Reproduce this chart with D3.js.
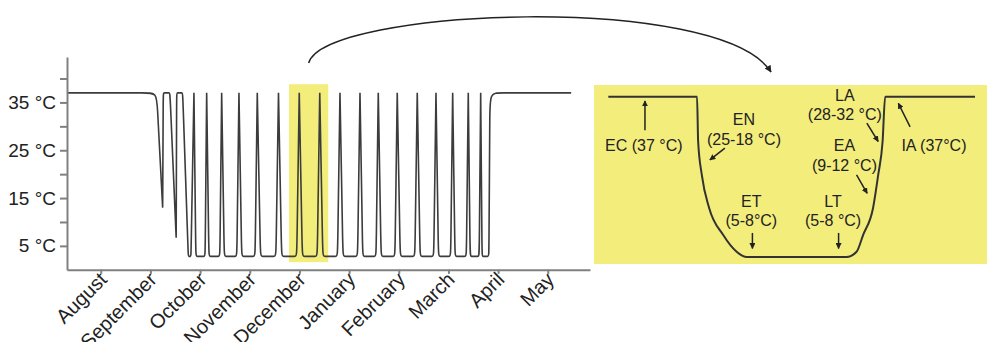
<!DOCTYPE html>
<html>
<head>
<meta charset="utf-8">
<script src="https://cdn.jsdelivr.net/npm/d3@7"></script>
<style>
body { margin: 0; background: #fff; }
text { font-family: "Liberation Sans", Arial, Helvetica, sans-serif; fill: #222; }
</style>
</head>
<body>
<script>
// x axis: months, counted from August = 0
var months = ["August", "September", "October", "November", "December",
              "January", "February", "March", "April", "May"];
var tempTicks = [5, 10, 15, 20, 25, 30, 35, 40];
var tempLabels = [5, 15, 25, 35];
var euthermic = 37;

// season, in months
var seasonStart = -0.68, seasonEnd = 9.47;

// torpor bouts (months): leaves 37 °C, reaches minimum, leaves minimum, back at 37 °C
var boutEntry   = [1.125, 1.393, 1.649, 1.876, 2.132, 2.434, 2.782, 3.151, 3.578, 3.996,
                   4.409, 4.816, 5.219, 5.587, 5.969, 6.372, 6.749, 7.085, 7.399, 7.649];
var boutLow     = [1.246, 1.518, 1.762, 1.914, 2.177, 2.486, 2.837, 3.215, 3.641, 4.058,
                   4.470, 4.876, 5.274, 5.644, 6.029, 6.429, 6.799, 7.132, 7.437, 7.677];
var boutLowEnd  = [1.246, 1.518, 1.816, 2.101, 2.398, 2.740, 3.107, 3.527, 3.946, 4.359,
                   4.767, 5.171, 5.543, 5.923, 6.324, 6.704, 7.045, 7.361, 7.619, 7.814];
var boutArousal = [1.258, 1.528, 1.876, 2.132, 2.434, 2.782, 3.151, 3.578, 3.996, 4.409,
                   4.816, 5.219, 5.587, 5.969, 6.372, 6.749, 7.085, 7.399, 7.649, 7.836];
var boutMin     = [13, 6.7, 2.8, 2.8, 2.8, 2.8, 2.8, 2.8, 2.8, 2.8,
                   2.8, 2.8, 2.8, 2.8, 2.8, 2.8, 2.8, 2.8, 2.8, 2.8];

// highlighted period (months) and its temp span
var highlightTime = [3.79, 4.58];
var highlightTemp = [1.6, 38.8];

// inset: one torpor bout, time in % of the panel
var insetTime = [0, 24.2, 24.5, 25.5, 27.5, 31.3, 35, 37.7, 65, 67.7, 69.5, 72.2, 73.6, 74.8, 75.5, 100];
var insetTemp = [37, 37, 27.5, 20.4, 13.4, 7.7, 4.1, 3, 3, 4.1, 7.7, 13.4, 20.4, 27.5, 37, 37];

// inset labels: lines, x (time), baseline (temp) of each line
var phaseText = [["EC (37 °C)"], ["EN", "(25-18 °C)"], ["LA", "(28-32 °C)"], ["EA", "(9-12 °C)"],
                 ["IA (37°C)"], ["ET", "(5-8°C)"], ["LT", "(5-8 °C)"]];
var phaseX = [9.7, 37, 64.5, 64.4, 88.8, 39, 61.3];
var phaseY = [[25.5], [31, 26.8], [36.1, 32.1], [25.5, 21.2], [25.5], [13.6, 9.6], [13.6, 9.6]];
// inset arrows: from (time,temp) to (time,temp)
var arrowFrom = [[10, 29.9], [31.8, 26.1], [70.5, 31.4], [67.7, 20.4], [82.3, 30.6], [39.3, 8.1], [62.8, 8.1]];
var arrowTo   = [[10, 36.1], [27.7, 23.6], [73.6, 27.5], [70.6, 16.5], [79.1, 35.6], [39.3, 4.8], [62.8, 4.8]];

var width = 987, height = 342;
var yellow = "#f3ed7c";

var svg = d3.select("body").append("svg")
  .attr("width", width)
  .attr("height", height);

var defs = svg.append("defs");
defs.append("marker")
  .attr("id", "head")
  .attr("viewBox", "0 0 10 10")
  .attr("refX", 9).attr("refY", 5)
  .attr("markerWidth", 4).attr("markerHeight", 4)
  .attr("orient", "auto")
  .append("path").attr("d", "M0,0L10,5L0,10z").attr("fill", "#222");
defs.append("marker")
  .attr("id", "bighead")
  .attr("viewBox", "0 0 10 10")
  .attr("refX", 9).attr("refY", 5)
  .attr("markerWidth", 7).attr("markerHeight", 7)
  .attr("markerUnits", "userSpaceOnUse")
  .attr("orient", "auto")
  .append("path").attr("d", "M0,0L10,5L0,10z").attr("fill", "#222");

// main chart
var x = d3.scaleLinear().domain([-0.68, 9.85]).range([67, 590]);
var y = d3.scaleLinear().domain([0, 44.5]).range([269.8, 57]);

svg.append("rect")
  .attr("x", x(highlightTime[0]))
  .attr("y", y(highlightTemp[1]))
  .attr("width", x(highlightTime[1]) - x(highlightTime[0]))
  .attr("height", y(highlightTemp[0]) - y(highlightTemp[1]))
  .attr("fill", yellow);

// control polygon for the temperature trace
var pts = [[seasonStart, euthermic], [seasonStart, euthermic]];
boutEntry.forEach(function(e, i) {
  var a = boutArousal[i], m = boutMin[i];
  pts.push([e, euthermic], [e, euthermic], [boutLow[i], m], [boutLow[i], m],
           [boutLowEnd[i], m], [boutLowEnd[i], m], [a, euthermic], [a, euthermic]);
});
pts.push([seasonEnd, euthermic], [seasonEnd, euthermic]);

var line = d3.line()
  .x(function(d) { return x(d[0]); })
  .y(function(d) { return y(d[1]); })
  .curve(d3.curveBasis);

svg.append("path")
  .attr("d", line(pts))
  .attr("fill", "none")
  .attr("stroke", "#3c3c3c")
  .attr("stroke-width", 1.6);

var yAxis = d3.axisLeft(y)
  .tickValues(tempTicks)
  .tickSize(7)
  .tickSizeOuter(0)
  .tickFormat(function(d) { return tempLabels.indexOf(d) >= 0 ? d + " °C" : ""; });

var gy = svg.append("g").attr("transform", "translate(67,0)").call(yAxis);
gy.selectAll("text").style("font-size", "19px").attr("dx", "-1px");

var xAxis = d3.axisBottom(x)
  .tickValues(d3.range(months.length))
  .tickSize(4)
  .tickSizeOuter(0)
  .tickFormat(function(d) { return months[d]; });

var gx = svg.append("g").attr("transform", "translate(0,269.8)").call(xAxis);
gx.selectAll("text")
  .style("font-size", "20px")
  .attr("text-anchor", "end")
  .attr("x", 0).attr("y", 0).attr("dy", 0)
  .attr("transform", "translate(7,11) rotate(-45)");

svg.selectAll(".domain, .tick line")
  .attr("stroke", "#808080")
  .attr("stroke-width", 2);
svg.selectAll(".tick text").attr("fill", "#222");

// inset panel
var px = d3.scaleLinear().domain([0, 100]).range([608.3, 975]);
var py = d3.scaleLinear().domain([3, 37]).range([257, 96.7]);

svg.append("rect")
  .attr("x", 594).attr("y", 85)
  .attr("width", width - 594).attr("height", 179)
  .attr("fill", yellow);

var insetLine = d3.line()
  .x(function(d) { return px(d); })
  .y(function(d, i) { return py(insetTemp[i]); })
  .curve(d3.curveMonotoneX);

svg.append("path")
  .attr("d", insetLine(insetTime))
  .attr("fill", "none")
  .attr("stroke", "#333")
  .attr("stroke-width", 2);

phaseText.forEach(function(lines, i) {
  lines.forEach(function(t, j) {
    svg.append("text")
      .attr("x", px(phaseX[i]))
      .attr("y", py(phaseY[i][j]))
      .attr("text-anchor", "middle")
      .style("font-size", "16px")
      .text(t);
  });
  svg.append("line")
    .attr("x1", px(arrowFrom[i][0])).attr("y1", py(arrowFrom[i][1]))
    .attr("x2", px(arrowTo[i][0])).attr("y2", py(arrowTo[i][1]))
    .attr("stroke", "#222")
    .attr("stroke-width", 1.5)
    .attr("marker-end", "url(#head)");
});

// connector from the highlighted period to the inset
var hx = (x(highlightTime[0]) + x(highlightTime[1])) / 2;
svg.append("path")
  .attr("d", "M" + hx + ",63 C" + (hx + 16) + ",8 720,-8 771,72")
  .attr("fill", "none")
  .attr("stroke", "#222")
  .attr("stroke-width", 1.5)
  .attr("marker-end", "url(#bighead)");
</script>
</body>
</html>
